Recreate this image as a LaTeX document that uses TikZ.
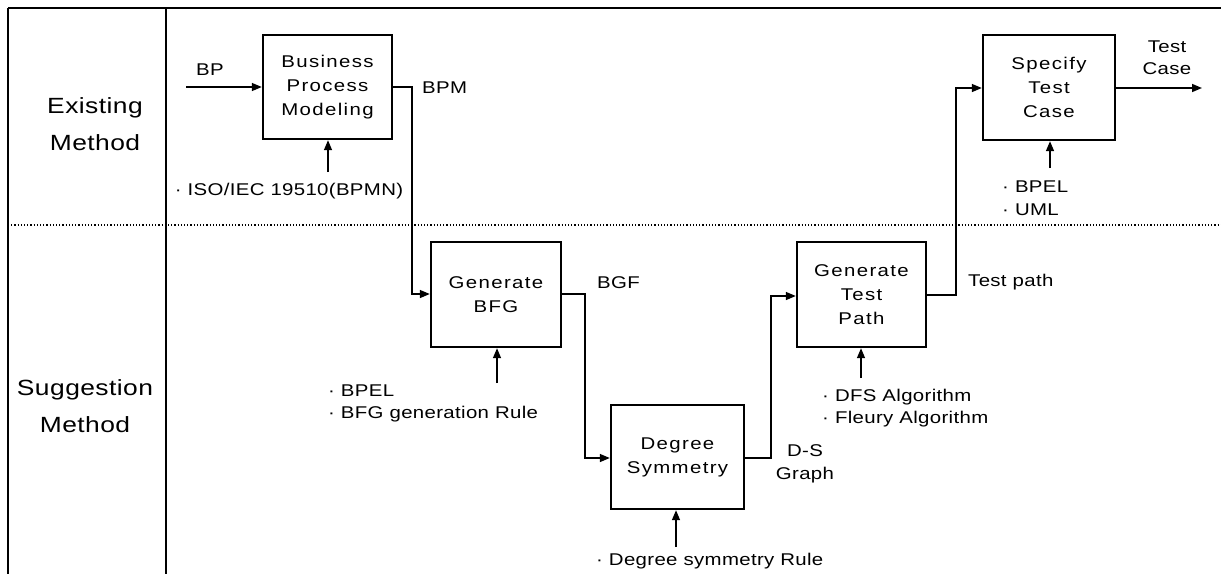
\documentclass[tikz,border=0pt]{standalone}
\usepackage{fontspec}
\setmainfont{Liberation Sans}[FakeStretch=1.2,LetterSpace=2]
\newfontfamily\boxfont{Liberation Sans}[FakeStretch=1.2,LetterSpace=8]
\usetikzlibrary{arrows.meta}
\tikzset{
  procbox/.style={draw=black, line width=2.4pt, minimum width=#1, text width=#1-6pt, align=center, inner sep=0pt, font=\boxfont\fontsize{17}{24}\selectfont},
  procbox/.default=130pt,
  conn/.style={line width=1.5pt, -{Triangle[length=10pt,width=8pt]}},
  lbl/.style={inner sep=0pt, font=\fontsize{17}{22.5}\selectfont},
  side/.style={inner sep=0pt, align=center, font=\fontsize{22}{37}\selectfont},
}
\begin{document}
\begin{tikzpicture}[x=1pt,y=-1pt]
\useasboundingbox (0,0) rectangle (1221,574);
% frame
\draw[line width=2.5pt] (8,8) -- (1221,8);
\draw[line width=2pt] (8,8) -- (8,574);
\draw[line width=1.5pt] (166,8) -- (166,574);
\draw[line width=1.2pt, dotted] (8,225) -- (1221,225);
% side labels
\node[side] (ex) at (95,124) {Existing\\Method};
\node[side] (sg) at (85,406) {Suggestion\\Method};
% boxes
\node[procbox=129pt, minimum height=104pt] (bpm) at (327.5,87) {Business\\Process\\Modeling};
\node[procbox=130pt, minimum height=105pt] (bfg) at (496,294.5) {Generate\\BFG};
\node[procbox=133pt, minimum height=104pt] (ds) at (677.5,457) {Degree\\Symmetry};
\node[procbox=129pt, minimum height=105pt] (gtp) at (861.5,294.5) {Generate\\Test\\Path};
\node[procbox=132pt, minimum height=105pt] (stc) at (1049,87.5) {Specify\\Test\\Case};
% free ends
\coordinate (bpin) at (186,87);
\coordinate (tcout) at (1202,88);
\coordinate (isob) at (328,172);
\coordinate (bfgb) at (497,383);
\coordinate (dsb) at (676,547);
\coordinate (gtpb) at (861,378);
\coordinate (stcb) at (1050,168);
% flow connectors
\draw[conn] (bpin) -- (bpm.west);
\draw[conn] (bpm.east |- 0,87) -- (412,87) -- (412,294) -- (bfg.west |- 0,294);
\draw[conn] (bfg.east |- 0,294) -- (585,294) -- (585,458) -- (ds.west |- 0,458);
\draw[conn] (ds.east |- 0,458) -- (771,458) -- (771,296) -- (gtp.west |- 0,296);
\draw[conn] (gtp.east |- 0,295) -- (956,295) -- (956,88) -- (stc.west |- 0,88);
\draw[conn] (stc.east |- 0,88) -- (tcout);
% input arrows
\draw[conn] (isob) -- (bpm.south -| isob);
\draw[conn] (bfgb) -- (bfg.south -| bfgb);
\draw[conn] (dsb) -- (ds.south -| dsb);
\draw[conn] (gtpb) -- (gtp.south -| gtpb);
\draw[conn] (stcb) -- (stc.south -| stcb);
% labels
\node[lbl] (lbp) at (210,70) {BP};
\node[lbl, anchor=west] (lbpm) at (422,88) {BPM};
\node[lbl, anchor=west] (lbgf) at (597,283) {BGF};
\node[lbl, align=center] (lds) at (805,464) {D-S\\Graph};
\node[lbl, anchor=west] (ltp) at (968,282) {Test path};
\node[lbl, align=center] (ltc) at (1167,57.5) {Test\\Case};
\node[lbl] (liso) at (289,191) {· ISO/IEC 19510(BPMN)};
\node[lbl, anchor=west, align=left] (lbfg) at (328,403.5) {· BPEL\\· BFG generation Rule};
\node[lbl, anchor=west] (ldsr) at (596,561) {· Degree symmetry Rule};
\node[lbl, anchor=west, align=left] (lgtp) at (822,408) {· DFS Algorithm\\· Fleury Algorithm};
\node[lbl, anchor=west, align=left] (lstc) at (1002,198) {· BPEL\\· UML};
\end{tikzpicture}
\end{document}
